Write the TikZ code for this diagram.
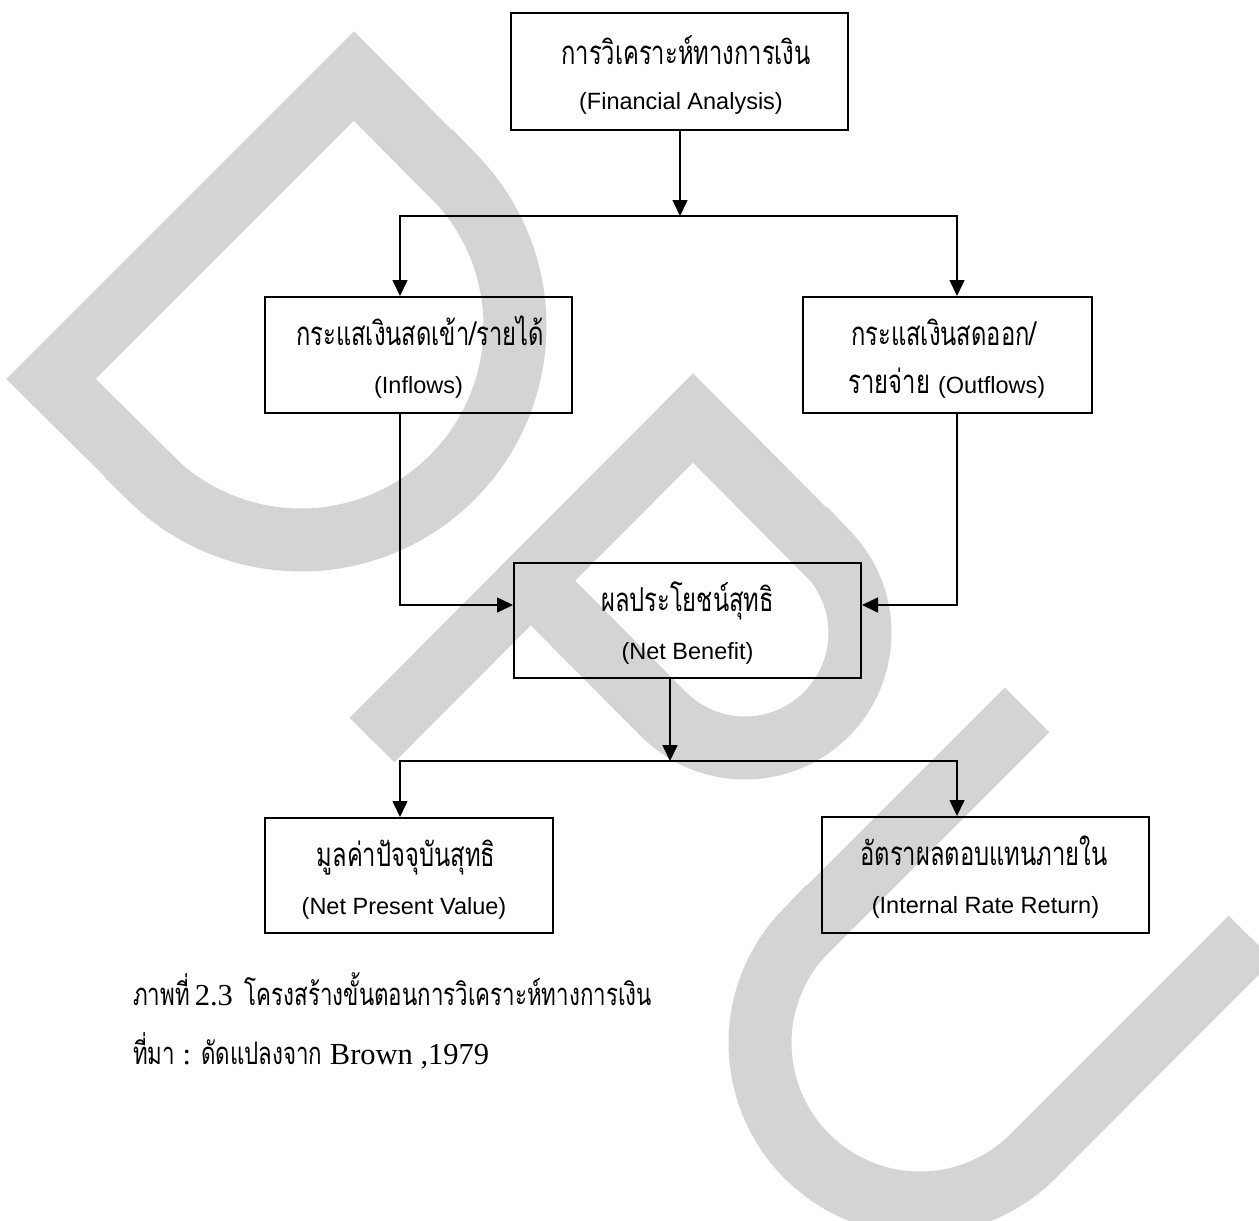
\documentclass[tikz,border=0pt]{standalone}
\usepackage{fontspec}
\setmainfont{Liberation Serif}
\newfontfamily\thaifont[Script=Thai,FakeStretch=0.72]{Loma}
\newfontfamily\ensans{Liberation Sans}
\usetikzlibrary{arrows.meta}
\definecolor{wm}{RGB}{212,212,212}
\newcommand{\thsize}{\fontsize{33}{36}\selectfont}
\newcommand{\capthsize}{\fontsize{31}{34}\selectfont}
\newcommand{\sersize}{\fontsize{30.5}{33}\selectfont}
\tikzset{
  box/.style={draw=black, line width=2pt, inner sep=0pt},
  thtxt/.style={font=\thaifont\thsize, anchor=base, inner sep=0pt},
  entxt/.style={font=\ensans\fontsize{23.5}{26}\selectfont, anchor=base, inner sep=0pt},
  conn/.style={line width=1.6pt},
  tip/.tip={Triangle[length=16pt,width=15pt]},
  arr/.style={conn, -tip},
  wmark/.style={draw=wm, line width=63pt, line join=miter, line cap=butt},
  captxt/.style={anchor=base west, inner sep=0pt}
}
\begin{document}
\begin{tikzpicture}[x=1pt,y=-1pt]
\useasboundingbox (0,0) rectangle (1259,1221);
\fill[white] (0,0) rectangle (1259,1221);
% watermark
\begin{scope}
  \clip (0,0) rectangle (1259,1221);
  \draw[wmark] (51,379) -- (354,76) -- (452,175)
    -- plot[domain=-45:135, samples=60, smooth] ({301+214*cos(\x)},{326+214*sin(\x)})
    -- (150,477) -- cycle;
  \draw[wmark] (372,740) -- (693,418) -- (826,552)
    -- plot[domain=-45:135, samples=50, smooth] ({745+115*cos(\x)},{633+115*sin(\x)})
    -- (531,581);
  \draw[wmark] (1027,710) -- (807,930)
    -- plot[domain=0:180, samples=60, smooth] ({920+160*cos(225-\x)},{1043+160*sin(225-\x)})
    -- (1251,938);
\end{scope}
% boxes
\node[box, minimum width=337pt, minimum height=117pt] (fa) at (679.5,71.5) {};
\node[thtxt] (fa-th) at (686,64) {การวิเคราะห์ทางการเงิน};
\node[entxt] (fa-en) at (681,109) {(Financial Analysis)};

\node[box, minimum width=307pt, minimum height=116pt] (inb) at (418.5,355) {};
\node[thtxt] (inb-th) at (420,345) {กระแสเงินสดเข้า/รายได้};
\node[entxt] (inb-en) at (418.5,393) {(Inflows)};

\node[box, minimum width=289pt, minimum height=116pt] (outb) at (947.5,355) {};
\node[thtxt] (outb-th) at (944,345) {กระแสเงินสดออก/};
\node[thtxt] (outb-en) at (947,393) {รายจ่าย {\ensans\fontsize{23.5}{26}\selectfont (Outflows)}};

\node[box, minimum width=347pt, minimum height=115pt] (nb) at (687.5,620.5) {};
\node[thtxt] (nb-th) at (687.5,611) {ผลประโยชน์สุทธิ};
\node[entxt] (nb-en) at (687.5,659) {(Net Benefit)};

\node[box, minimum width=288pt, minimum height=115pt] (npv) at (409,875.5) {};
\node[thtxt] (npv-th) at (406,866) {มูลค่าปัจจุบันสุทธิ};
\node[entxt] (npv-en) at (404,914) {(Net Present Value)};

\node[box, minimum width=327pt, minimum height=116pt] (irr) at (985.5,875) {};
\node[thtxt] (irr-th) at (984,865) {อัตราผลตอบแทนภายใน};
\node[entxt] (irr-en) at (985.5,913) {(Internal Rate Return)};

% connectors
\coordinate (j1) at (680,216);
\coordinate (l1) at (400,216);
\coordinate (r1) at (957,216);
\draw[arr] (fa.south -| j1) -- (j1);
\draw[conn, tip-tip] (l1 |- inb.north) -- (l1) -- (r1) -- (r1 |- outb.north);

\coordinate (m1) at (400,605);
\coordinate (m2) at (957,605);
\draw[arr] (inb.south -| m1) -- (m1) -- (m1 -| nb.west);
\draw[arr] (outb.south -| m2) -- (m2) -- (m2 -| nb.east);

\coordinate (j2) at (670,761);
\coordinate (l2) at (400,761);
\coordinate (r2) at (957,761);
\draw[arr] (nb.south -| j2) -- (j2);
\draw[conn, tip-tip] (l2 |- npv.north) -- (l2) -- (r2) -- (r2 |- irr.north);

% caption
\node[captxt] (cap1) at (133,1005) {\thaifont\capthsize ภาพที่\hspace{5pt}{\rmfamily\sersize 2.3}\hspace{12pt}โครงสร้างขั้นตอนการวิเคราะห์ทางการเงิน};
\node[captxt] (cap2) at (133,1064) {\thaifont\capthsize ที่มา {\rmfamily\sersize :} ดัดแปลงจาก {\rmfamily\sersize Brown ,1979}};
\end{tikzpicture}
\end{document}
